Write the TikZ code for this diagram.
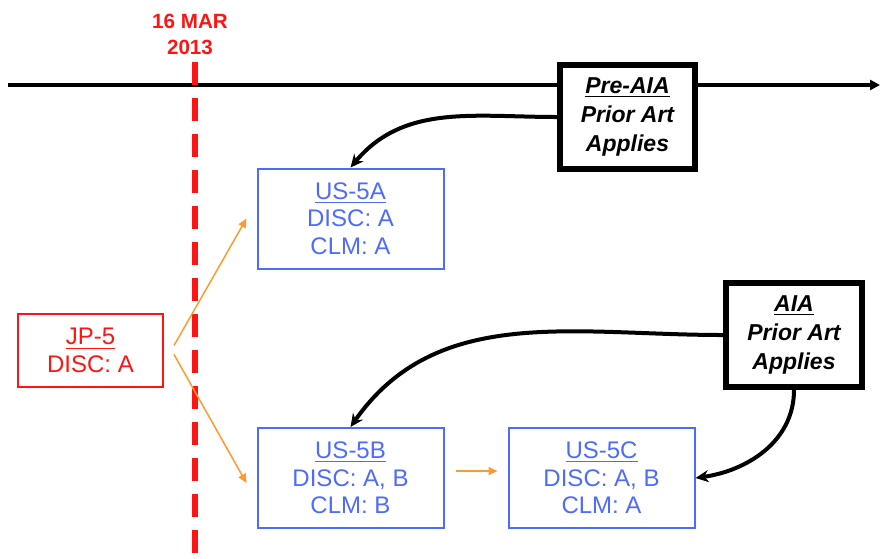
\documentclass[tikz,border=0pt]{standalone}
\usepackage{fontspec}
\setmainfont{Liberation Sans}
\usetikzlibrary{positioning,arrows.meta}
\definecolor{accentblue}{HTML}{4D6BFE}
\definecolor{accentred}{HTML}{FF1414}
\definecolor{accentorange}{HTML}{FF9A30}

\tikzset{
  appbox/.style={draw=accentblue, text=accentblue, line width=1pt, align=center,
    minimum width=93pt, minimum height=50pt, inner sep=0pt,
    font=\fontsize{12}{13.75}\selectfont},
  rulebox/.style={draw=black, fill=white, line width=3pt, align=center,
    minimum width=67.5pt, minimum height=52pt, inner sep=0pt,
    font=\bfseries\itshape\fontsize{11.5}{14.5}\selectfont},
  priority/.style={accentorange, line width=0.75pt, -{Triangle[length=4.5pt,width=4pt]}},
  law/.style={black, line width=2pt, -{Stealth[length=6.5pt,width=6pt]}}
}

\begin{document}
\begin{tikzpicture}[x=0.5pt,y=-0.5pt]
\useasboundingbox (0,0) rectangle (881,558);

% timeline and the cut-off date
\coordinate (time start) at (8,85);
\coordinate (time end) at (880,85);
\draw[line width=2pt, -{Triangle[length=5pt,width=5pt]}] (time start) -- (time end);
\coordinate (cut top) at (195,62);
\coordinate (cut bottom) at (195,558);
\draw[accentred, line width=3pt, dash pattern=on 11.5pt off 6.5pt] (cut top) -- (cut bottom);
\node[text=accentred, align=center, font=\bfseries\fontsize{10.3}{13}\selectfont] (cutdate) at (190,34) {16 MAR\\2013};

% applications
\node[draw=accentred, text=accentred, line width=1pt, align=center, minimum width=72.5pt,
  minimum height=36.5pt, inner sep=0pt, font=\fontsize{12}{13.75}\selectfont]
  (jp5) at (90.5,350.5) {\underline{JP-5}\\DISC: A};
\node[appbox] (us5a) at (350.5,218.5) {\underline{US-5A}\\DISC: A\\CLM: A};
\node[appbox] (us5b) at (350.5,478) {\underline{US-5B}\\DISC: A, B\\CLM: B};
\node[appbox, right=31.5pt of us5b] (us5c) {\underline{US-5C}\\DISC: A, B\\CLM: A};

% which prior art
\node[rulebox] (preaia) at (627.5,117) {\underline{Pre-AIA}\\Prior Art\\Applies};
\node[rulebox, minimum width=68pt] (aia) at (794,335) {\underline{AIA}\\Prior Art\\Applies};

% priority claims
\draw[priority] ([xshift=5pt,yshift=2.5pt]jp5.east) -- ([xshift=-5pt]us5a.west);
\draw[priority] ([xshift=5pt,yshift=-2pt]jp5.east) -- ([xshift=-5pt,yshift=-2.5pt]us5b.west);
\draw[priority] ([xshift=5.5pt,yshift=3.5pt]us5b.east) -- ([xshift=-5pt,yshift=3.5pt]us5c.west);

\draw[law] (preaia.west) to[out=180,in=50] (us5a.north);
\draw[law] (aia.west) to[out=180,in=55] (us5b.north);
\draw[law] (aia.south) to[out=-90,in=8] (us5c.east);
\end{tikzpicture}
\end{document}
